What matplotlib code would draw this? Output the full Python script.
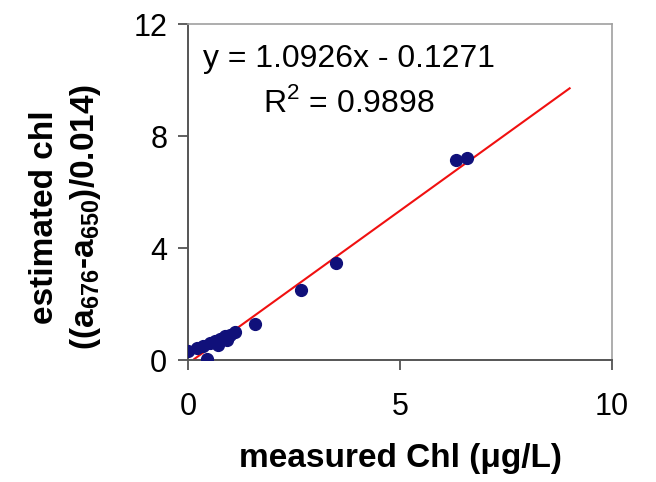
import matplotlib
matplotlib.use("Agg")
import matplotlib.pyplot as plt
import numpy as np

# data
measured = [0.0, 0.21, 0.35, 0.45, 0.52, 0.64, 0.71, 0.75, 0.87, 0.92, 0.99, 1.11,
            1.58, 2.67, 3.50, 6.32, 6.58]
estimated = [0.33, 0.43, 0.50, 0.05, 0.61, 0.68, 0.54, 0.75, 0.86, 0.71, 0.89, 1.00,
             1.30, 2.50, 3.46, 7.14, 7.20]
slope, intercept = 1.0926, -0.1271
fit_range = [0.15, 9.0]
x_ticks = [0, 5, 10]
y_ticks = [0, 4, 8, 12]

plt.rcParams["font.family"] = ["Liberation Sans", "DejaVu Sans"]
plt.rcParams["mathtext.fontset"] = "custom"
plt.rcParams["mathtext.rm"] = "Liberation Sans"
plt.rcParams["mathtext.bf"] = "Liberation Sans:bold"

fig = plt.figure(figsize=(6.56, 4.82), dpi=100)
ax = fig.add_axes([0.2866, 0.2531, 0.6464, 0.6969])

ax.plot(measured, estimated, "o", color="#10107a", markersize=8.5, zorder=3)
fx = np.array(fit_range)
ax.plot(fx, slope * fx + intercept, "-", color="#f01010", linewidth=1.5, zorder=2)

ax.set_xlim(0, 10)
ax.set_ylim(0, 12)
ax.set_xticks(x_ticks)
ax.set_yticks(y_ticks)
ax.tick_params(axis="both", labelsize=22, length=7, width=1.2, color="#444444",
               direction="out")
ax.tick_params(axis="x", pad=16)
ax.tick_params(axis="y", pad=8)

for side in ["left", "bottom"]:
    ax.spines[side].set_color("#555555")
    ax.spines[side].set_linewidth(1.4)
for side in ["top", "right"]:
    ax.spines[side].set_color("#a0a0a0")
    ax.spines[side].set_linewidth(1.2)

ax.set_xlabel("measured Chl (\u03bcg/L)", fontsize=24, fontweight="bold", labelpad=15)
ax.set_ylabel("estimated chl\n((a$_{\\mathregular{676}}$-a$_{\\mathregular{650}}$)/0.014)",
              fontsize=24, fontweight="bold", linespacing=1.3)
ax.yaxis.set_label_coords(-0.200, 0.426)

ax.text(3.80, 10.46, "y = 1.0926x - 0.1271", fontsize=23, ha="center", va="baseline")
ax.text(3.80, 8.86, "R$^{2}$ = 0.9898", fontsize=23, ha="center", va="baseline")

fig.savefig("out.png", dpi=100)
